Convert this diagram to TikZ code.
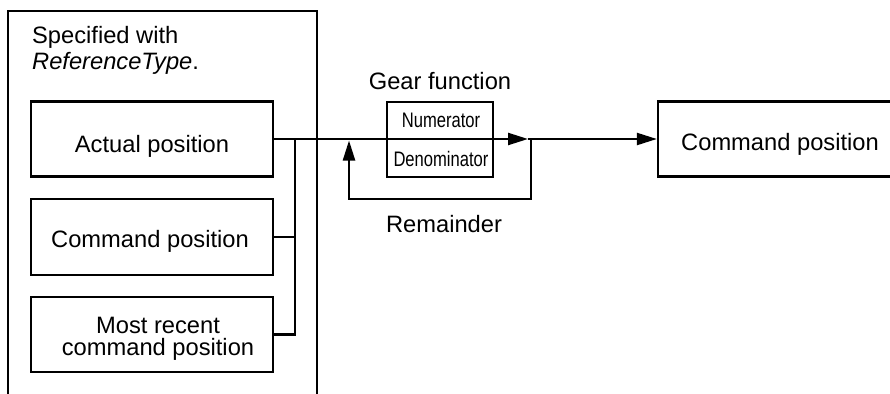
\documentclass[tikz,border=0pt]{standalone}
\usepackage{fontspec}
\setmainfont{Liberation Sans}
\newfontfamily\narrowsf[FakeStretch=0.79]{Liberation Sans}
\usetikzlibrary{arrows.meta}
\begin{document}
\begin{tikzpicture}[x=1pt,y=-1pt, line width=2.3pt,
  box/.style={draw, rectangle, inner sep=0pt, line width=2.3pt},
  txt/.style={inner sep=0pt, anchor=base, font=\fontsize{23.7}{26}\selectfont},
  lefttxt/.style={inner sep=0pt, anchor=base west, font=\fontsize{23.7}{26}\selectfont},
  small/.style={inner sep=0pt, anchor=base, font=\narrowsf\fontsize{21}{22}\selectfont},
  arr/.style={-{Triangle[length=20pt,width=12pt]}}
]
\useasboundingbox (0,0) rectangle (890,393);
\clip (0,0) rectangle (890,393);

% outer frame (open at bottom)
\draw (8,400) -- (8,11) -- (317,11) -- (317,400);
\node[lefttxt] (spec1) at (31,44) {Specified with};
\node[lefttxt] (spec2) at (31,70) {\itshape ReferenceType\upshape.};

% source boxes
\node[box, minimum width=242pt, minimum height=75pt] (act) at (152,139) {};
\node[txt] (actl) at (152,152) {Actual position};
\node[box, minimum width=242pt, minimum height=76pt] (cmdL) at (152,237) {};
\node[txt] (cmdLl) at (150,247) {Command position};
\node[box, minimum width=242pt, minimum height=75pt] (recent) at (152,334.5) {};
\node[txt] (rec1) at (158,333) {Most recent};
\node[txt] (rec2) at (158,355) {command position};

% gear function
\node[box, minimum width=106pt, minimum height=75pt] (gear) at (440,139.5) {};
\node[small] (num) at (441,127) {Numerator};
\node[small] (den) at (441,166) {Denominator};
\node[txt] (gearl) at (440,90) {Gear function};
\node[txt] (rem) at (444,232) {Remainder};

% output box
\node[box, minimum width=244pt, minimum height=75pt] (cmdR) at (780,139) {};
\node[txt] (cmdRl) at (780,150) {Command position};

% connectors
\coordinate (bus) at (295,139);
\coordinate (tip) at (528,139);
\coordinate (fb) at (531,139);
\coordinate (fbl) at (349,199);
\coordinate (fbend) at (349,140.5);
\draw[arr] (act.east) -- (tip);
\draw[arr] (tip) -- (cmdR.west);
\draw (bus) |- (recent.east);
\draw (cmdL.east) -- (cmdL.east -| bus);
\draw[arr] (fb) |- (fbl) -- (fbend);
\end{tikzpicture}
\end{document}
